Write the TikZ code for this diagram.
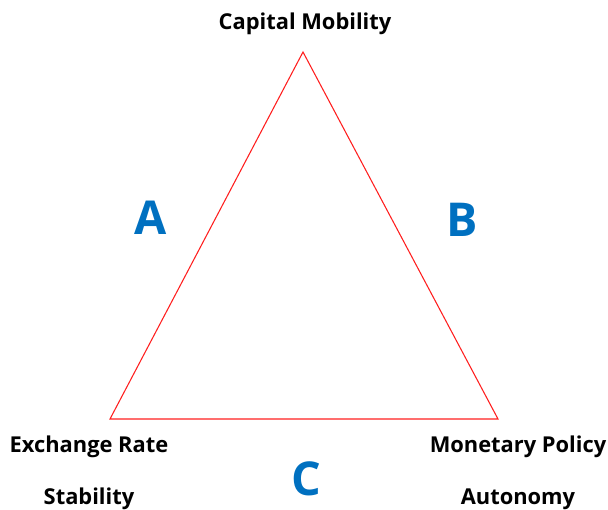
\documentclass[tikz,border=0pt]{standalone}
\usepackage{fontspec}
\setmainfont{Open Sans}
\usepackage{tikz}

\definecolor{trired}{RGB}{255,30,30}
\definecolor{letterblue}{RGB}{0,112,192}

\begin{document}
\begin{tikzpicture}[x=0.75pt,y=-0.75pt,
        corner/.style={font=\bfseries\fontsize{16.4}{19}\selectfont,align=center,inner sep=0pt},
        side/.style={font=\bfseries\fontsize{35}{37}\selectfont,text=letterblue,inner sep=0pt}]
        \useasboundingbox (0,0) rectangle (608,510);

        % the three corners of the trilemma
        \coordinate (top) at (303,52);
        \coordinate (left) at (110,419);
        \coordinate (right) at (498,419);
        \draw[trired, line width=0.8pt] (top) -- (right) -- (left) -- cycle;

        \node[corner] (capital) at (305,24) {Capital Mobility};
        \node[corner] (exchange) at (89,447) {Exchange Rate};
        \node[corner] (stability) at (89,499) {Stability};
        \node[corner] (monetary) at (518,447) {Monetary Policy};
        \node[corner] (autonomy) at (518,499) {Autonomy};

        \node[side] (sideA) at (151,218) {A};
        \node[side] (sideB) at (462,220) {B};
        \node[side] (sideC) at (306,479) {C};
    \end{tikzpicture}
\end{document}
